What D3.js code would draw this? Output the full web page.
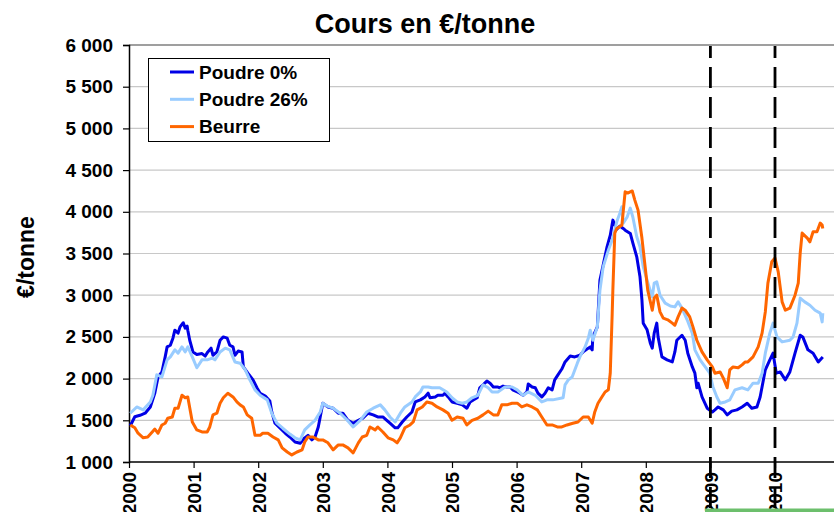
<!DOCTYPE html>
<html><head><meta charset="utf-8">
<script src="https://cdn.jsdelivr.net/npm/d3@7"></script>
<style>html,body{margin:0;padding:0;background:#fff;overflow:hidden}</style>
</head><body>
<svg id="c" width="834" height="512"></svg>
<script>
const titleText = "Cours en €/tonne";
const yTitle = "€/tonne";
const yTicks = [1000,1500,2000,2500,3000,3500,4000,4500,5000,5500,6000];
const xYears = [2000,2001,2002,2003,2004,2005,2006,2007,2008,2009,2010];
const markYears = [2009, 2010];
const seriesNames = ["Poudre 0%", "Poudre 26%", "Beurre"];

const poudre0 = [
[2000.02,1435],[2000.09,1543],[2000.17,1560],[2000.25,1585],[2000.33,1660],[2000.40,1827],[2000.45,2020],[2000.51,2080],[2000.56,2260],[2000.59,2380],[2000.64,2400],[2000.68,2485],[2000.71,2580],[2000.76,2545],[2000.79,2620],[2000.84,2670],[2000.87,2605],[2000.90,2630],[2000.91,2580],[2000.94,2460],[2000.99,2320],
[2001.05,2290],[2001.13,2300],[2001.18,2270],[2001.22,2320],[2001.27,2365],[2001.30,2280],[2001.36,2320],[2001.41,2460],[2001.46,2500],[2001.52,2485],[2001.56,2400],[2001.61,2380],[2001.64,2280],[2001.69,2330],[2001.75,2320],[2001.77,2140],[2001.84,2065],[2001.92,1985],[2001.98,1890],
[2002.03,1825],[2002.11,1790],[2002.18,1730],[2002.21,1600],[2002.26,1465],[2002.34,1405],[2002.42,1345],[2002.49,1300],[2002.57,1240],[2002.65,1225],[2002.72,1290],[2002.77,1320],[2002.83,1265],[2002.88,1300],[2002.93,1420],[2002.96,1540],
[2003.00,1705],[2003.08,1660],[2003.16,1645],[2003.24,1585],[2003.31,1585],[2003.39,1500],[2003.47,1465],[2003.55,1500],[2003.62,1525],[2003.70,1585],[2003.78,1565],[2003.85,1540],[2003.93,1540],[2003.99,1500],
[2004.04,1465],[2004.12,1410],[2004.16,1410],[2004.23,1480],[2004.30,1540],[2004.38,1600],[2004.43,1720],[2004.51,1745],[2004.58,1780],[2004.63,1825],[2004.66,1770],[2004.74,1780],[2004.78,1800],[2004.86,1800],[2004.89,1825],[2004.94,1780],
[2005.00,1720],[2005.08,1705],[2005.16,1685],[2005.23,1645],[2005.28,1720],[2005.33,1745],[2005.39,1770],[2005.43,1890],[2005.48,1925],[2005.54,1970],[2005.59,1945],[2005.64,1900],[2005.70,1900],[2005.74,1890],[2005.79,1910],[2005.85,1900],[2005.90,1900],[2005.94,1865],
[2006.01,1840],[2006.05,1825],[2006.10,1800],[2006.16,1840],[2006.18,1935],[2006.24,1900],[2006.29,1890],[2006.33,1825],[2006.39,1780],[2006.44,1825],[2006.49,1890],[2006.55,1865],[2006.59,1985],[2006.64,2045],[2006.70,2115],[2006.75,2200],[2006.83,2270],[2006.90,2260],[2006.98,2280],
[2007.03,2320],[2007.09,2355],[2007.14,2380],[2007.17,2345],[2007.18,2500],[2007.25,2620],[2007.29,3180],[2007.34,3360],[2007.40,3580],[2007.45,3720],[2007.49,3900],[2007.55,3790],[2007.60,3830],[2007.65,3800],[2007.68,3780],[2007.76,3740],[2007.80,3625],[2007.86,3460],[2007.91,3220],[2007.94,2945],[2007.96,2665],
[2008.02,2585],[2008.07,2425],[2008.10,2365],[2008.13,2545],[2008.17,2665],[2008.19,2500],[2008.25,2260],[2008.33,2225],[2008.41,2200],[2008.45,2320],[2008.48,2460],[2008.56,2520],[2008.61,2460],[2008.65,2305],[2008.72,2140],[2008.76,2065],[2008.79,1890],[2008.81,1945],[2008.87,1780],[2008.95,1645],
[2009.03,1600],[2009.07,1625],[2009.12,1660],[2009.20,1625],[2009.26,1565],[2009.33,1610],[2009.41,1625],[2009.49,1660],[2009.57,1705],[2009.64,1645],[2009.72,1660],[2009.77,1780],[2009.85,2105],[2009.92,2225],[2009.97,2305],
[2010.02,2065],[2010.08,2080],[2010.16,1985],[2010.23,2080],[2010.31,2305],[2010.39,2520],[2010.43,2500],[2010.51,2345],[2010.59,2305],[2010.67,2200],[2010.74,2260]];

const poudre26 = [
[2000.02,1585],[2000.12,1660],[2000.22,1625],[2000.33,1720],[2000.37,1800],[2000.43,2045],[2000.51,2020],[2000.59,2225],[2000.64,2260],[2000.71,2345],[2000.76,2305],[2000.82,2380],[2000.87,2320],[2000.91,2380],[2000.98,2260],
[2001.05,2130],[2001.13,2225],[2001.21,2225],[2001.29,2245],[2001.33,2225],[2001.41,2320],[2001.49,2365],[2001.56,2345],[2001.64,2200],[2001.72,2185],[2001.80,2105],[2001.87,1985],[2001.95,1865],
[2002.03,1800],[2002.14,1745],[2002.21,1585],[2002.29,1465],[2002.38,1405],[2002.49,1335],[2002.57,1290],[2002.65,1265],[2002.72,1385],[2002.80,1445],[2002.88,1500],[2002.96,1600],
[2003.00,1705],[2003.07,1670],[2003.16,1645],[2003.27,1585],[2003.38,1500],[2003.47,1420],[2003.58,1500],[2003.68,1600],[2003.78,1645],[2003.89,1685],[2003.96,1625],
[2004.04,1540],[2004.12,1480],[2004.20,1585],[2004.27,1660],[2004.38,1720],[2004.43,1780],[2004.51,1840],[2004.55,1900],[2004.63,1900],[2004.69,1890],[2004.81,1890],[2004.92,1840],
[2005.00,1770],[2005.08,1720],[2005.16,1705],[2005.23,1720],[2005.31,1770],[2005.40,1800],[2005.48,1925],[2005.56,1890],[2005.62,1840],[2005.71,1840],[2005.82,1900],[2005.93,1900],
[2006.01,1865],[2006.10,1800],[2006.18,1840],[2006.29,1800],[2006.39,1720],[2006.47,1745],[2006.56,1745],[2006.72,1770],[2006.75,1925],[2006.80,1985],[2006.86,2020],[2006.94,2185],[2006.98,2260],
[2007.06,2380],[2007.11,2485],[2007.14,2580],[2007.18,2460],[2007.25,2620],[2007.29,3060],[2007.34,3340],[2007.42,3540],[2007.49,3685],[2007.55,3880],[2007.60,3985],[2007.63,4060],[2007.65,3865],[2007.71,3935],[2007.76,4045],[2007.80,3935],[2007.86,3700],[2007.91,3580],[2007.96,3340],
[2008.02,3180],[2008.07,3050],[2008.10,2980],[2008.13,3145],[2008.17,3160],[2008.22,3000],[2008.30,2905],[2008.38,2870],[2008.45,2860],[2008.50,2920],[2008.56,2845],[2008.64,2705],[2008.72,2545],[2008.76,2345],[2008.84,2225],[2008.92,2140],[2008.99,2065],
[2009.04,1900],[2009.10,1780],[2009.15,1705],[2009.23,1720],[2009.30,1745],[2009.38,1865],[2009.49,1890],[2009.58,1865],[2009.66,1945],[2009.74,1945],[2009.80,2065],[2009.85,2305],[2009.92,2545],[2009.97,2665],
[2010.03,2500],[2010.11,2440],[2010.23,2460],[2010.28,2500],[2010.34,2665],[2010.39,2965],[2010.46,2920],[2010.54,2880],[2010.62,2820],[2010.70,2785],[2010.73,2680],[2010.74,2785]];

const beurre = [
[2000.02,1444],[2000.09,1410],[2000.14,1345],[2000.22,1290],[2000.29,1300],[2000.36,1360],[2000.40,1395],[2000.45,1345],[2000.51,1444],[2000.56,1465],[2000.60,1525],[2000.67,1540],[2000.71,1645],[2000.76,1645],[2000.82,1800],[2000.87,1770],[2000.91,1780],[2000.98,1480],
[2001.05,1385],[2001.13,1360],[2001.21,1360],[2001.25,1420],[2001.30,1565],[2001.36,1585],[2001.41,1705],[2001.46,1770],[2001.53,1825],[2001.61,1780],[2001.67,1720],[2001.72,1685],[2001.77,1660],[2001.83,1565],[2001.90,1525],[2001.95,1320],
[2002.03,1320],[2002.07,1345],[2002.15,1345],[2002.23,1300],[2002.31,1265],[2002.37,1170],[2002.45,1120],[2002.52,1085],[2002.60,1120],[2002.68,1145],[2002.72,1240],[2002.77,1300],[2002.85,1300],[2002.93,1265],
[2003.00,1265],[2003.08,1230],[2003.16,1145],[2003.24,1205],[2003.31,1205],[2003.39,1170],[2003.47,1110],[2003.55,1230],[2003.61,1300],[2003.68,1320],[2003.73,1420],[2003.81,1385],[2003.85,1420],[2003.93,1360],
[2004.01,1290],[2004.09,1265],[2004.15,1230],[2004.20,1290],[2004.27,1410],[2004.35,1444],[2004.40,1480],[2004.46,1625],[2004.54,1660],[2004.61,1720],[2004.69,1705],[2004.77,1660],[2004.86,1625],[2004.94,1585],
[2005.00,1500],[2005.08,1540],[2005.17,1525],[2005.23,1444],[2005.31,1500],[2005.40,1525],[2005.48,1565],[2005.56,1610],[2005.64,1565],[2005.71,1565],[2005.77,1685],[2005.85,1685],[2005.93,1705],
[2006.01,1705],[2006.08,1660],[2006.16,1685],[2006.24,1660],[2006.32,1625],[2006.39,1540],[2006.47,1444],[2006.55,1444],[2006.63,1420],[2006.70,1420],[2006.78,1444],[2006.87,1465],[2006.95,1480],
[2007.03,1540],[2007.11,1540],[2007.17,1465],[2007.21,1600],[2007.26,1705],[2007.32,1780],[2007.37,1840],[2007.42,1865],[2007.45,2065],[2007.48,2785],[2007.49,3060],[2007.52,3745],[2007.55,3800],[2007.63,3840],[2007.68,4240],[2007.72,4225],[2007.79,4250],[2007.83,4140],[2007.88,4020],[2007.94,3685],[2007.99,3340],
[2008.03,3060],[2008.10,2820],[2008.13,2965],[2008.17,3000],[2008.22,2800],[2008.27,2725],[2008.34,2705],[2008.41,2665],[2008.45,2640],[2008.50,2740],[2008.56,2845],[2008.61,2820],[2008.68,2740],[2008.73,2620],[2008.79,2460],[2008.87,2320],[2008.95,2225],
[2009.03,2140],[2009.07,2065],[2009.15,2080],[2009.20,2005],[2009.26,1890],[2009.30,2105],[2009.35,2140],[2009.43,2130],[2009.49,2165],[2009.54,2200],[2009.58,2200],[2009.66,2260],[2009.74,2380],[2009.80,2545],[2009.85,2800],[2009.89,3145],[2009.95,3400],
[2010.00,3445],[2010.05,3280],[2010.11,2920],[2010.16,2820],[2010.23,2845],[2010.31,3000],[2010.36,3145],[2010.39,3505],[2010.42,3745],[2010.50,3685],[2010.54,3640],[2010.59,3760],[2010.65,3760],[2010.70,3865],[2010.73,3840],[2010.74,3800]];

const seriesData = [poudre0, poudre26, beurre];
const seriesColors = ["#0000e6", "#99ccff", "#ff6600"];

const svg = d3.select("#c");
const font = "'Liberation Sans', Arial, sans-serif";
const L = 129, T = 45, B = 462, R = 834;
const yearPx = 64.6;

const x = d3.scaleLinear().domain([2000, 2011]).range([L, L + 11 * yearPx]);
const y = d3.scaleLinear().domain([1000, 6000]).range([B, T]);

// gridlines
svg.append("g").selectAll("line").data(yTicks.filter(v => v > 1000))
  .join("line")
  .attr("x1", L).attr("x2", R)
  .attr("y1", d => y(d)).attr("y2", d => y(d))
  .attr("stroke", d => d === 6000 ? "#404040" : "#c8c8c8")
  .attr("stroke-width", 1.2);

// y axis
const fmt = v => d3.format(",")(v).replace(",", " ");
const yAxis = svg.append("g").attr("transform", `translate(${L},0)`)
  .call(d3.axisLeft(y).tickValues(yTicks).tickFormat(fmt).tickSize(6).tickPadding(10));
yAxis.select(".domain").attr("stroke", "#000").attr("stroke-width", 1.5);
yAxis.selectAll(".tick line").attr("stroke", "#000").attr("stroke-width", 1.2);
yAxis.selectAll("text").attr("font-family", font).attr("font-weight", "bold")
  .attr("font-size", 19).attr("fill", "#000");

// x axis
const xAxis = svg.append("g").attr("transform", `translate(0,${B})`)
  .call(d3.axisBottom(x).tickValues(xYears).tickFormat(d => String(d)).tickSize(6).tickSizeOuter(0));
xAxis.select(".domain").attr("stroke", "#000").attr("stroke-width", 1.5)
  .attr("d", `M${L},0H${R}`);
xAxis.selectAll(".tick line").attr("stroke", "#000").attr("stroke-width", 1.2);
xAxis.selectAll("text")
  .attr("font-family", font).attr("font-weight", "bold").attr("font-size", 19).attr("fill", "#000")
  .attr("text-anchor", "end")
  .attr("transform", "rotate(-90)")
  .attr("x", -10).attr("y", 0).attr("dy", "0.36em");

// series lines
const line = d3.line().x(d => x(d[0])).y(d => y(d[1]));
svg.append("g").selectAll("path").data(seriesData).join("path")
  .attr("d", line)
  .attr("fill", "none")
  .attr("stroke", (d, i) => seriesColors[i])
  .attr("stroke-width", 3)
  .attr("stroke-linejoin", "round");

// dashed markers
svg.append("g").selectAll("line").data(markYears).join("line")
  .attr("x1", d => x(d)).attr("x2", d => x(d))
  .attr("y1", T + 1).attr("y2", 512)
  .attr("stroke", "#000").attr("stroke-width", 2.8)
  .attr("stroke-dasharray", "21,9").attr("stroke-dashoffset", 9);

// green bar at bottom
svg.append("rect").attr("x", 705).attr("y", 508.5).attr("width", 129).attr("height", 4)
  .attr("fill", "#6cbf6c");

// title
svg.append("text").attr("x", 425).attr("y", 33).attr("text-anchor", "middle")
  .attr("font-family", font).attr("font-weight", "bold").attr("font-size", 27)
  .text(titleText);

// y title
svg.append("text").attr("transform", "translate(34,257) rotate(-90)")
  .attr("text-anchor", "middle")
  .attr("font-family", font).attr("font-weight", "bold").attr("font-size", 23)
  .text(yTitle);

// legend
const lg = svg.append("g");
lg.append("rect").attr("x", 148.5).attr("y", 58.5).attr("width", 181).attr("height", 83)
  .attr("fill", "#fff").attr("stroke", "#000").attr("stroke-width", 1);
const rows = lg.selectAll("g.row").data(seriesNames).join("g").attr("class", "row")
  .attr("transform", (d, i) => `translate(0,${72 + i * 27.3})`);
rows.append("line").attr("x1", 170).attr("x2", 194).attr("y1", 0).attr("y2", 0)
  .attr("stroke", (d, i) => seriesColors[i]).attr("stroke-width", 3);
rows.append("text").attr("x", 199).attr("y", 0).attr("dy", "0.36em")
  .attr("font-family", font).attr("font-weight", "bold").attr("font-size", 19)
  .text(d => d);
</script>
</body></html>
